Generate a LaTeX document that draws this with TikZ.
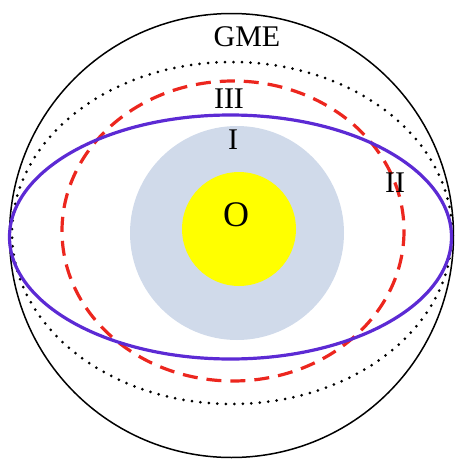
\documentclass[tikz,border=0pt]{standalone}
\usepackage{fontspec}
\setmainfont{Liberation Serif}
\usepackage{xcolor}
\usepackage{tikz}

\definecolor{coreblue}{RGB}{208,218,234}
\definecolor{coreyellow}{RGB}{255,255,0}
\definecolor{orbitred}{RGB}{236,38,30}
\definecolor{orbitblue}{RGB}{92,42,212}

\tikzset{
	lbl/.style={inner sep=0pt, font=\fontsize{30}{33}\selectfont},
	redorbit/.style={draw=orbitred, line width=3.2pt, dash pattern=on 15pt off 9pt},
	blueorbit/.style={draw=orbitblue, line width=3.2pt},
	dotorbit/.style={draw=black, line width=3pt, line cap=round, dash pattern=on 0pt off 8.5pt}
}

\begin{document}
\begin{tikzpicture}[x=1pt, y=-1pt]
	\useasboundingbox (0,0) rectangle (475,472);
	% core discs
	\fill[coreblue] (237,233) circle (107);
	\fill[coreyellow] (239,229) circle (57);
	% orbits
	\draw[line width=1.5pt] (231.5,235.5) circle (222);
	\draw[dotorbit] (232,233) ellipse (220 and 171);
	\draw[redorbit] (233,231) ellipse (171 and 150);
	\draw[blueorbit] (230.5,237) ellipse (221 and 122);
	% labels
	\node[lbl] (gme) at (247,37) {GME};
	\node[lbl] (three) at (229,99) {III};
	\node[lbl] (one) at (233,140) {I};
	\node[lbl] (two) at (395,183) {II};
	\node[lbl, font=\fontsize{36}{39}\selectfont] (zero) at (236,215) {O};
\end{tikzpicture}
\end{document}
